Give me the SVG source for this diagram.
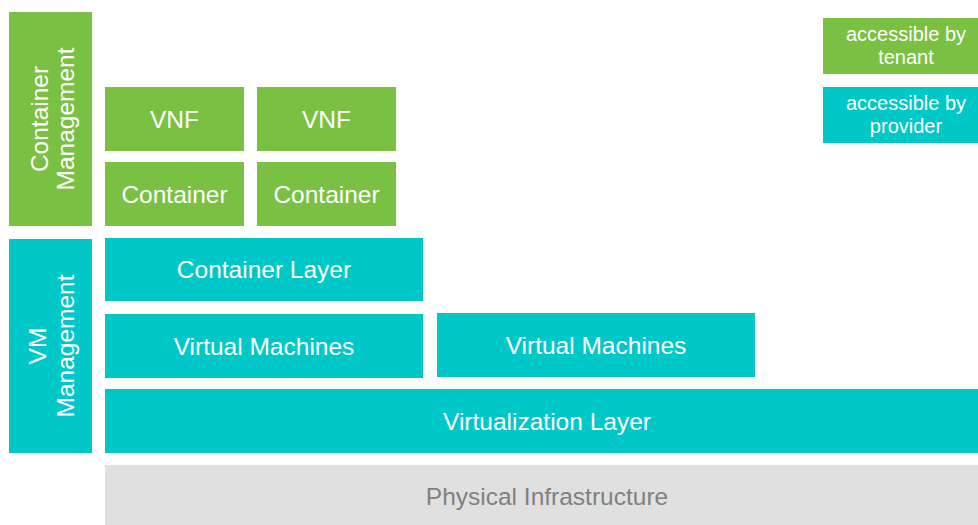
<svg xmlns="http://www.w3.org/2000/svg" width="978" height="525" viewBox="0 0 978 525">
  <style>
    .tenant { fill: #7AC143; }
    .provider { fill: #00C8C9; }
    .infra { fill: #E0E0E0; }
    text { font-family: "Liberation Sans", Arial, Helvetica, sans-serif; font-size: 24.5px; fill: #FFFFFF; text-anchor: middle; }
    .legend { font-size: 20px; }
    .infra-label { fill: #808080; }
  </style>
  <rect x="0" y="0" width="978" height="525" fill="#FFFFFF"/>

  <!-- management columns -->
  <g id="container-management">
    <rect class="tenant" x="9" y="12" width="83" height="214"/>
    <text transform="translate(50.5,119) rotate(-90)"><tspan x="0" y="-3">Container</tspan><tspan x="0" y="23">Management</tspan></text>
  </g>
  <g id="vm-management">
    <rect class="provider" x="9" y="239" width="83" height="214"/>
    <text transform="translate(50.5,346) rotate(-90)"><tspan x="0" y="-5">VM</tspan><tspan x="0" y="23">Management</tspan></text>
  </g>

  <!-- tenant stack -->
  <g id="vnf-1">
    <rect class="tenant" x="105" y="87" width="139" height="64"/>
    <text x="174.5" y="127.5">VNF</text>
  </g>
  <g id="vnf-2">
    <rect class="tenant" x="257" y="87" width="139" height="64"/>
    <text x="326.5" y="127.5">VNF</text>
  </g>
  <g id="container-1">
    <rect class="tenant" x="105" y="162" width="139" height="64"/>
    <text x="174.5" y="202.5">Container</text>
  </g>
  <g id="container-2">
    <rect class="tenant" x="257" y="162" width="139" height="64"/>
    <text x="326.5" y="202.5">Container</text>
  </g>

  <!-- provider stack -->
  <g id="container-layer">
    <rect class="provider" x="105" y="238" width="318" height="63"/>
    <text x="264" y="278">Container Layer</text>
  </g>
  <g id="virtual-machines-1">
    <rect class="provider" x="105" y="314" width="318" height="64"/>
    <text x="264" y="354.5">Virtual Machines</text>
  </g>
  <g id="virtual-machines-2">
    <rect class="provider" x="437" y="313" width="318" height="64"/>
    <text x="596" y="353.5">Virtual Machines</text>
  </g>
  <g id="virtualization-layer">
    <rect class="provider" x="105" y="389" width="873" height="64"/>
    <text x="547" y="429.5">Virtualization Layer</text>
  </g>
  <g id="physical-infrastructure">
    <rect class="infra" x="105" y="465" width="873" height="60"/>
    <text class="infra-label" x="547" y="505">Physical Infrastructure</text>
  </g>

  <!-- legend -->
  <g id="legend-tenant">
    <rect class="tenant" x="823" y="18" width="155" height="56"/>
    <text class="legend" x="906" y="40.5"><tspan x="906">accessible by</tspan><tspan x="906" y="63.5">tenant</tspan></text>
  </g>
  <g id="legend-provider">
    <rect class="provider" x="823" y="87" width="155" height="56"/>
    <text class="legend" x="906" y="109.5"><tspan x="906">accessible by</tspan><tspan x="906" y="132.5">provider</tspan></text>
  </g>

  <g id="connectors"/>
</svg>
